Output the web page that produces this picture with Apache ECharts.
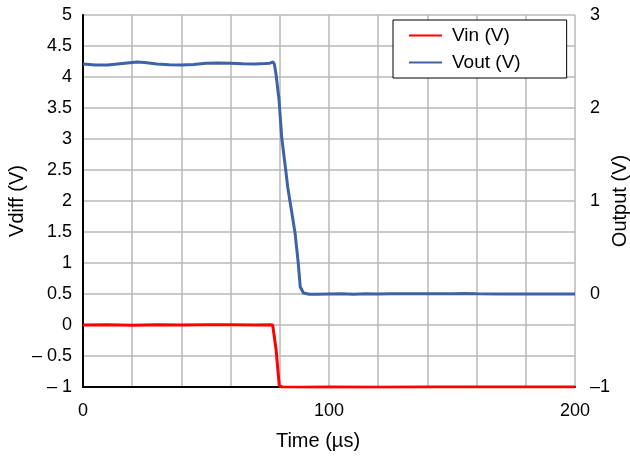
<!DOCTYPE html>
<html>
<head>
<meta charset="utf-8">
<script src="https://cdn.jsdelivr.net/npm/echarts@6/dist/echarts.min.js"></script>
<style>
  html, body { margin: 0; padding: 0; background: #fff; }
  #chart { width: 630px; height: 460px; }
</style>
</head>
<body>
<div id="chart"></div>
<script>
// Vin (left axis, V) samples
const vinTime = [0, 10, 20, 30, 40, 50, 60, 70, 76, 77.1, 78.5, 79.8, 81, 90, 100, 120, 140, 160, 180, 200];
const vinValues = [0, 0.005, -0.003, 0.004, -0.002, 0.003, 0.005, 0.002, 0.004, 0, -0.4, -0.98, -1.0, -1.005, -1.0, -1.003, -1.0, -1.002, -1.0, -1.0];

// Vout (right axis, Output V) samples
const voutTime = [0, 5, 10, 15, 20, 22, 25, 30, 35, 40, 45, 50, 55, 60, 65, 70, 74, 76, 77.3, 77.8,
  78.5, 79.7, 80.8, 82.4, 83.2, 84.5, 86.2, 87.5, 88.3, 89.6, 92, 95, 100, 105, 110, 115, 120, 125, 130, 140, 150, 155, 160, 170, 180, 190, 200];
const voutValues = [2.473, 2.462, 2.462, 2.476, 2.49, 2.495, 2.488, 2.474, 2.466, 2.462, 2.468, 2.48, 2.484, 2.482, 2.476, 2.474, 2.478, 2.482, 2.495, 2.47,
  2.355, 2.086, 1.677, 1.333, 1.154, 0.939, 0.656, 0.333, 0.078, 0.011, -0.002, -0.004, 0.0, 0.003, -0.002, 0.004, 0.001, 0.003, 0.002, 0.004, 0.003, 0.006, 0.002, 0.001, 0.001, 0.001, 0.001];

const seriesNames = ["Vin (V)", "Vout (V)"];

const font = "Liberation Sans, Arial, Helvetica, sans-serif";

let chart = echarts.init(document.getElementById("chart"));

let option = {
  animation: false,
  grid: { left: 83, right: 55, top: 15, bottom: 73, outerBoundsMode: "none" },
  legend: {
    data: seriesNames,
    left: 393,
    top: 20,
    orient: "vertical",
    backgroundColor: "#fff",
    borderColor: "#000",
    borderWidth: 1,
    borderRadius: 0,
    padding: [6, 46, 6, 16],
    itemGap: 8,
    itemWidth: 33,
    itemHeight: 2,
    icon: "rect",
    textStyle: { fontFamily: font, fontSize: 19, color: "#000", padding: [0, 0, 0, 5] }
  },
  xAxis: {
    type: "value",
    min: 0,
    max: 200,
    interval: 20,
    name: "Time (\u00b5s)",
    nameLocation: "middle",
    nameGap: 44,
    nameMoveOverlap: false,
    nameTextStyle: { fontFamily: font, fontSize: 20, color: "#000", padding: [0, 22, 0, 0] },
    axisLine: { show: true, onZero: false, lineStyle: { color: "#000", width: 2 } },
    axisTick: { show: false },
    axisLabel: {
      fontFamily: font, fontSize: 18, color: "#000", margin: 15,
      formatter: function (v) { return v % 100 === 0 ? String(v) : ""; }
    },
    splitLine: { show: true, lineStyle: { color: "#b8b8b8", width: 1.5 } }
  },
  yAxis: [
    {
      type: "value",
      min: -1,
      max: 5,
      interval: 0.5,
      name: "Vdiff (V)",
      nameLocation: "middle",
      nameRotate: 90,
      nameGap: 56,
      nameMoveOverlap: false,
      nameTextStyle: { fontFamily: font, fontSize: 20, color: "#000" },
      axisLine: { show: true, onZero: false, lineStyle: { color: "#000", width: 2 } },
      axisTick: { show: false },
      axisLabel: {
        fontFamily: font, fontSize: 18, color: "#000", margin: 11,
        formatter: function (v) { return v < 0 ? "\u2013 " + Math.abs(v) : String(v); }
      },
      splitLine: { show: true, lineStyle: { color: "#b8b8b8", width: 1.5 } }
    },
    {
      type: "value",
      min: -1,
      max: 3,
      interval: 1,
      position: "right",
      name: "Output (V)",
      nameLocation: "middle",
      nameRotate: 90,
      nameGap: 35,
      nameMoveOverlap: false,
      nameTextStyle: { fontFamily: font, fontSize: 20, color: "#000" },
      axisLine: { show: false },
      axisTick: { show: false },
      axisLabel: {
        fontFamily: font, fontSize: 18, color: "#000", margin: 15,
        formatter: function (v) { return v < 0 ? "\u2013" + Math.abs(v) : String(v); }
      },
      splitLine: { show: false }
    }
  ],
  series: [
    {
      name: seriesNames[0],
      type: "line",
      yAxisIndex: 0,
      symbol: "none",
      color: "#ff0000",
      lineStyle: { color: "#ff0000", width: 3 },
      z: 5,
      data: vinTime.map((t, i) => [t, vinValues[i]])
    },
    {
      name: seriesNames[1],
      type: "line",
      yAxisIndex: 1,
      symbol: "none",
      color: "#3e62a8",
      lineStyle: { color: "#3e62a8", width: 3 },
      z: 5,
      data: voutTime.map((t, i) => [t, voutValues[i]])
    }
  ]
};

chart.setOption(option);
</script>
</body>
</html>
